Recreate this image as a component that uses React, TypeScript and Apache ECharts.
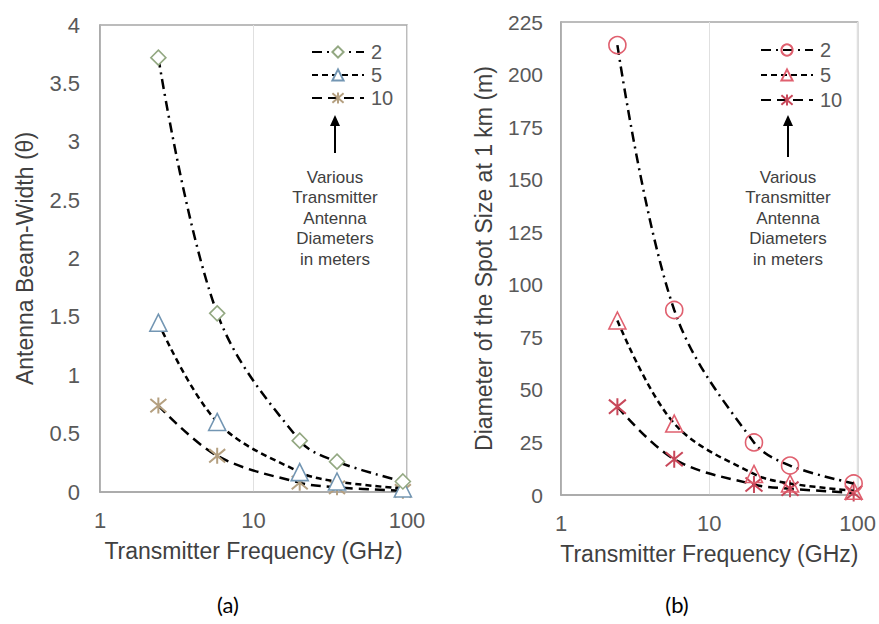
import React, { useEffect, useRef } from "react";
import * as echarts from "echarts";

const frequencies = [2.4, 5.8, 20, 35, 94];
const diameters = ["2", "5", "10"];

const beamWidth2 = [3.72, 1.53, 0.44, 0.26, 0.09];
const beamWidth5 = [1.45, 0.6, 0.17, 0.09, 0.03];
const beamWidth10 = [0.74, 0.31, 0.08, 0.04, 0.01];

const spot2 = [214, 88, 25, 14, 5.5];
const spot5 = [83, 34, 10, 5.5, 2];
const spot10 = [42, 17, 5, 3, 1];

const leftYTicks = [0, 0.5, 1, 1.5, 2, 2.5, 3, 3.5, 4];
const rightYTicks = [0, 25, 50, 75, 100, 125, 150, 175, 200, 225];

const annotationLines = ["Various", "Transmitter", "Antenna", "Diameters", "in meters"];

const STAR = "path://M0,0L10,10M10,0L0,10M5,-1L5,11";

const FONT = "'Liberation Sans', Arial, sans-serif";
const TXT = "#595959";

function pairs(ys: number[]) {
  return frequencies.map((f, i) => [f, ys[i]]);
}

export default function App() {
  const ref = useRef<HTMLDivElement>(null);
  useEffect(() => {
    if (!ref.current) return;
    const chart = echarts.init(ref.current, undefined, { renderer: "svg" });

    const dashStyles: any[] = [
      [10, 5, 2, 5],
      [6, 4],
      [10, 6],
    ];
    const leftColors = ["#93a882", "#7396b3", "#b5a080"];
    const rightColors = ["#e0606f", "#e0606f", "#c8485a"];
    const symbols = ["diamond", "triangle", STAR];
    const rightSymbols = ["circle", "triangle", STAR];
    const sizes = [15, 17, 16];
    const rightSizes = [17, 17, 17];

    const leftData = [beamWidth2, beamWidth5, beamWidth10];
    const rightData = [spot2, spot5, spot10];

    const series: any[] = [];
    diameters.forEach((d, i) => {
      const star = i === 2;
      series.push({
        name: d,
        type: "line",
        xAxisIndex: 0,
        yAxisIndex: 0,
        data: pairs(leftData[i]),
        smooth: 0.35,
        symbol: symbols[i],
        symbolSize: sizes[i],
        lineStyle: { color: "#000", width: 2.5, type: dashStyles[i] },
        itemStyle: {
          color: star ? "none" : "#fff",
          borderColor: leftColors[i],
          borderWidth: star ? 2 : 1.6,
        },
        z: 3 - i,
      });
    });
    diameters.forEach((d, i) => {
      const star = i === 2;
      series.push({
        name: d + " ",
        type: "line",
        xAxisIndex: 1,
        yAxisIndex: 1,
        data: pairs(rightData[i]),
        smooth: 0.35,
        symbol: rightSymbols[i],
        symbolSize: rightSizes[i],
        lineStyle: { color: "#000", width: 2.5, type: dashStyles[i] },
        itemStyle: {
          color: star ? "none" : "rgba(255,255,255,0)",
          borderColor: rightColors[i],
          borderWidth: star ? 2 : 1.6,
        },
        z: 3 - i,
      });
    });

    const xAxisBase = (gridIndex: number) => ({
      type: "log",
      gridIndex,
      logBase: 10,
      min: 1,
      max: 100,
      name: "Transmitter Frequency (GHz)",
      nameLocation: "middle",
      nameGap: 47,
      nameTextStyle: { color: "#404040", fontSize: 23, fontFamily: FONT },
      axisLine: { show: true, lineStyle: { color: "#a6a6a6", width: 1.5 } },
      axisTick: { show: false },
      axisLabel: { color: TXT, fontSize: 22, fontFamily: FONT, margin: 17 },
      splitLine: { show: true, lineStyle: { color: "#e0e0e0", width: 1 } },
      minorTick: { show: false },
    });

    const leftYTickLabels = leftYTicks.map((t) => String(t));
    const rightYTickLabels = rightYTicks.map((t) => String(t));

    const annot = (cx: number, arrowTop: number, arrowBottom: number, textTop: number) => {
      const els: any[] = [
        {
          type: "line",
          shape: { x1: cx, y1: arrowBottom, x2: cx, y2: arrowTop + 8 },
          style: { stroke: "#000", lineWidth: 2 },
        },
        {
          type: "polygon",
          shape: { points: [[cx, arrowTop], [cx - 5, arrowTop + 11], [cx + 5, arrowTop + 11]] },
          style: { fill: "#000" },
        },
      ];
      annotationLines.forEach((t, k) => {
        els.push({
          type: "text",
          x: cx,
          y: textTop + k * 20.5,
          style: {
            text: t,
            fill: "#404040",
            fontSize: 17,
            fontFamily: FONT,
            align: "center",
            verticalAlign: "middle",
          },
        });
      });
      return els;
    };

    const option: any = {
      animation: false,
      backgroundColor: "#fff",
      grid: [
        { left: 100, right: 472, top: 25, bottom: 132, show: true, borderColor: "#a6a6a6", borderWidth: 1.5, backgroundColor: "transparent" },
        { left: 561, right: 19, top: 22, bottom: 129, show: true, borderColor: "#a6a6a6", borderWidth: 1.5, backgroundColor: "transparent" },
      ],
      xAxis: [xAxisBase(0), xAxisBase(1)],
      yAxis: [
        {
          type: "value",
          gridIndex: 0,
          min: 0,
          max: 4,
          interval: 0.5,
          name: "Antenna Beam-Width (θ)",
          nameLocation: "middle",
          nameGap: 64,
          nameTextStyle: { color: "#404040", fontSize: 23, fontFamily: FONT },
          axisLine: { show: true, lineStyle: { color: "#a6a6a6", width: 1.5 } },
          axisTick: { show: false },
          axisLabel: {
            color: TXT,
            fontSize: 22,
            fontFamily: FONT,
            margin: 20,
            formatter: (v: number) => {
              const idx = leftYTicks.indexOf(v);
              return idx >= 0 ? leftYTickLabels[idx] : "";
            },
          },
          splitLine: { show: false },
        },
        {
          type: "value",
          gridIndex: 1,
          min: 0,
          max: 225,
          interval: 25,
          name: "Diameter of the Spot Size at 1 km (m)",
          nameLocation: "middle",
          nameGap: 66,
          nameTextStyle: { color: "#404040", fontSize: 23, fontFamily: FONT },
          axisLine: { show: true, lineStyle: { color: "#a6a6a6", width: 1.5 } },
          axisTick: { show: false },
          axisLabel: {
            color: TXT,
            fontSize: 21,
            fontFamily: FONT,
            margin: 18,
            formatter: (v: number) => {
              const idx = rightYTicks.indexOf(v);
              return idx >= 0 ? rightYTickLabels[idx] : "";
            },
          },
          splitLine: { show: false },
        },
      ],
      legend: [
        {
          data: diameters,
          orient: "vertical",
          left: 306,
          top: 37,
          itemWidth: 52,
          itemHeight: 14,
          itemGap: 3,
          selectedMode: false,
          textStyle: { color: TXT, fontSize: 20, fontFamily: FONT, lineHeight: 20, padding: [0, 0, 0, 2] },
        },
        {
          data: diameters.map((d) => d + " "),
          orient: "vertical",
          left: 755,
          top: 35,
          itemWidth: 52,
          itemHeight: 14,
          itemGap: 5,
          selectedMode: false,
          formatter: (n: string) => n.trim(),
          textStyle: { color: TXT, fontSize: 20, fontFamily: FONT, lineHeight: 20, padding: [0, 0, 0, 2] },
        },
      ],
      graphic: [
        ...annot(335, 115, 153, 177),
        ...annot(788, 115, 157, 177),
        {
          type: "text",
          x: 228,
          y: 604,
          style: { text: "(a)", fill: "#000", fontSize: 22, fontFamily: "Lato, 'Open Sans', sans-serif", align: "center", verticalAlign: "middle" },
        },
        {
          type: "text",
          x: 677,
          y: 604,
          style: { text: "(b)", fill: "#000", fontSize: 22, fontFamily: "Lato, 'Open Sans', sans-serif", align: "center", verticalAlign: "middle" },
        },
      ],
      series,
    };
    chart.setOption(option);
    return () => chart.dispose();
  }, []);

  return (
    <div style={{ position: "fixed", left: 0, top: 0, width: 879, height: 624, background: "#fff" }}>
      <div ref={ref} style={{ width: 879, height: 624 }} />
    </div>
  );
}
